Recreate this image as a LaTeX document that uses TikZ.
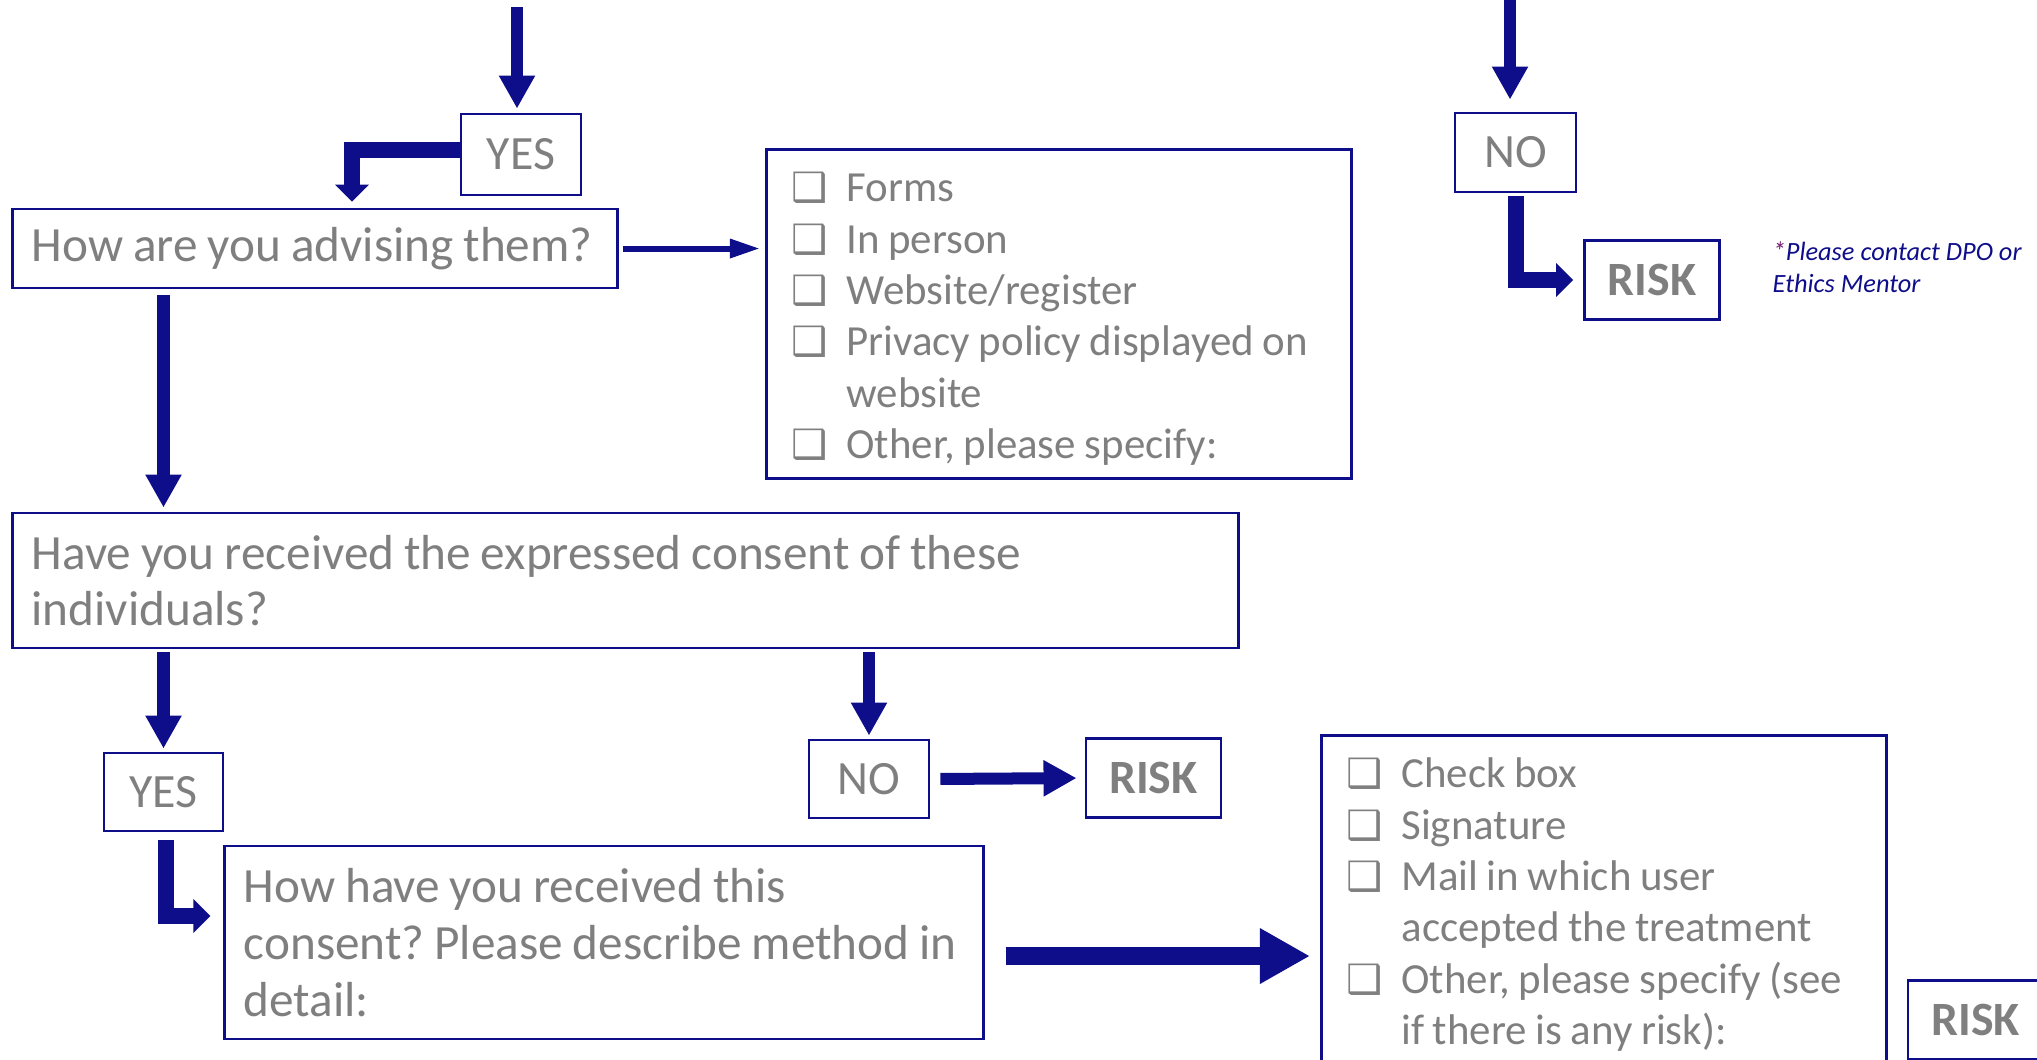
\documentclass[tikz,border=0pt]{standalone}
\usepackage{fontspec}
\setmainfont{Carlito}
\newfontfamily\symfont{DejaVu Sans}
\usetikzlibrary{arrows.meta}
\definecolor{navy}{RGB}{14,14,138}
\definecolor{txtgray}{RGB}{127,127,127}
\definecolor{plum}{RGB}{112,24,112}
\frenchspacing
\newcommand{\chkmark}{\smash{\symfont\fontsize{11.5}{11.5}\selectfont ❑}}
\newcommand{\chkitem}[1]{\par\noindent\hangindent=0.55cm\hangafter=1\makebox[0.55cm][l]{\chkmark}#1\par}

\begin{document}
\begin{tikzpicture}[x=0.01cm, y=-0.01cm,
  box/.style={draw=navy, line width=0.8pt, text=txtgray, inner sep=0pt},
  qbox/.style={box, align=left, font=\fontsize{14}{16.1}\selectfont, inner xsep=0.19cm, execute at begin node={\spaceskip=0.2em\relax}},
  ansbox/.style={box, font=\fontsize{13.6}{16.1}\selectfont},
  riskbox/.style={box, font=\fontsize{13.6}{16.1}\selectfont\bfseries, minimum width=1.35cm, minimum height=0.79cm},
  listbox/.style={box, align=left, font=\fontsize{12.2}{14.6}\selectfont, inner xsep=0.25cm, minimum height=3.29cm, anchor=north west, execute at begin node={\spaceskip=0.2em\relax}},
  flow/.style={navy, line width=0.12cm, -{Triangle[width=0.34cm,length=0.33cm]}},
  thin flow/.style={navy, line width=0.06cm, -{Triangle[width=0.18cm,length=0.3cm]}},
  elbow/.style={navy, line width=0.16cm, -{Triangle[width=0.33cm,length=0.17cm]}},
  big flow/.style={navy, line width=0.18cm, -{Triangle[width=0.52cm,length=0.5cm]}}]
\useasboundingbox (0,0) rectangle (2037,1059);
\clip (0,0) rectangle (2037,1059);

% questions
\node[qbox, text width=5.66cm, minimum height=0.79cm] (how) at (315,248.5) {How are you advising them?};
\node[qbox, text width=11.87cm, minimum height=1.35cm] (consent) at (625.5,580.5) {Have you received the expressed consent of these\\individuals?};
\node[qbox, text width=7.2cm, minimum height=1.93cm] (method) at (604,942.5) {How have you received this\\consent? Please describe method in\\detail:};

% answers
\node[ansbox, minimum width=1.2cm, minimum height=0.81cm] (yesA) at (521,154.5) {YES};
\node[ansbox, minimum width=1.21cm, minimum height=0.79cm] (noA) at (1515.5,152.5) {NO};
\node[riskbox] (riskA) at (1652,280) {RISK};
\node[ansbox, minimum width=1.19cm, minimum height=0.78cm] (yesB) at (163.5,792) {YES};
\node[ansbox, minimum width=1.2cm, minimum height=0.78cm] (noB) at (869,779) {NO};
\node[riskbox] (riskB) at (1153.5,778) {RISK};
\node[riskbox] (riskC) at (1975.5,1020) {RISK};

% check lists
\node[listbox, text width=5.35cm] (viaA) at (765,148) {\chkitem{Forms}\chkitem{In person}\chkitem{Website/register}\chkitem{Privacy policy displayed on\newline website}\chkitem{Other, please specify:}\vspace{0.12cm}};
\node[listbox, text width=5.15cm] (viaB) at (1320,734) {\chkitem{Check box}\chkitem{Signature}\chkitem{Mail in which user\newline accepted the treatment}\chkitem{Other, please specify (see\newline if there is any risk):}\vspace{0.12cm}};

\node[anchor=north west, inner sep=0pt, align=left, text=navy, font=\fontsize{7.5}{9.1}\selectfont\itshape] (note) at (1772,241) {\textcolor{plum}{*}Please contact DPO or\\Ethics Mentor};

% connectors
\coordinate (inA) at (517,7);
\coordinate (inB) at (1510,0);
\draw[flow, shorten >=0.04cm] (inA) -- (inA |- yesA.north);
\draw[flow, shorten >=0.12cm] (inB) -- (inB |- noA.north);
\draw[elbow, shorten >=0.06cm] ([yshift=0.05cm]yesA.west) -| ([xshift=0.37cm]how.north);
\draw[elbow, shorten <=0.03cm, shorten >=0.1cm] (noA.south) |- (riskA.west);
\draw[thin flow, shorten <=0.04cm, shorten >=0.05cm] (how.east) -- (how.east -| viaA.west);
\draw[flow, shorten <=0.06cm, shorten >=0.04cm] (yesB |- how.south) -- (yesB |- consent.north);
\draw[flow, shorten <=0.03cm, shorten >=0.03cm] (yesB |- consent.south) -- (yesB.north);
\draw[flow, shorten <=0.03cm, shorten >=0.03cm] (noB |- consent.south) -- (noB.north);
\draw[flow, shorten <=0.1cm, shorten >=0.08cm] (noB.east) -- (riskB.west);
\draw[elbow, shorten <=0.08cm, shorten >=0.13cm] ([xshift=0.025cm]yesB.south) |- ([yshift=0.265cm]method.west);
\draw[big flow, shorten <=0.21cm, shorten >=0.1cm] ([yshift=-0.135cm]method.east) -- ([yshift=-0.135cm]method.east -| viaB.west);
\end{tikzpicture}
\end{document}
